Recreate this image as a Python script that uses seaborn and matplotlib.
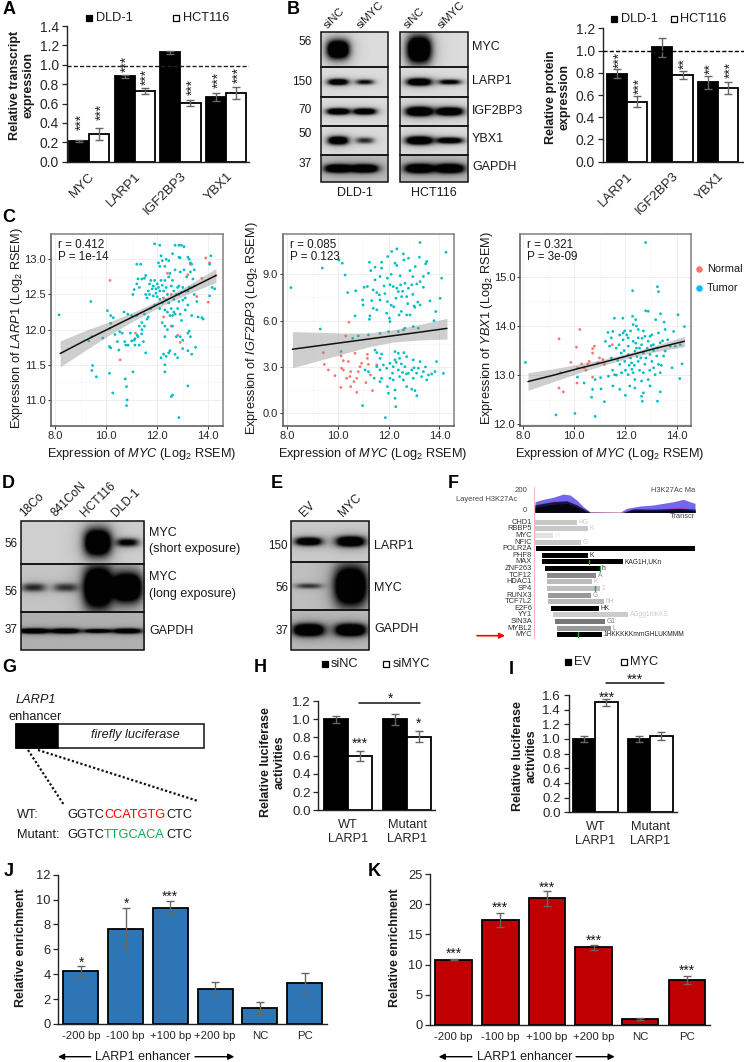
import numpy as np
import pandas as pd
import matplotlib
matplotlib.use("Agg")
import matplotlib.pyplot as plt
from matplotlib.patches import Rectangle
import seaborn as sns

sns.set_style("ticks")
plt.rcParams['font.family'] = ['Liberation Sans', 'DejaVu Sans']
plt.rcParams['mathtext.fontset'] = 'custom'
plt.rcParams['mathtext.rm'] = 'Liberation Sans'
plt.rcParams['mathtext.it'] = 'Liberation Sans:italic'
plt.rcParams['mathtext.bf'] = 'Liberation Sans:bold'
TXT = '#1a1a1a'
plt.rcParams['text.color'] = TXT

W, H = 744, 1062

# ---------- bar data ----------
a_genes = ['MYC', 'LARP1', 'IGF2BP3', 'YBX1']
a_dld = [0.21, 0.88, 1.13, 0.665]
a_hct = [0.285, 0.73, 0.605, 0.71]
a_dld_err = [0.01, 0.015, 0.015, 0.04]
a_hct_err = [0.065, 0.03, 0.035, 0.06]
a_star_y = [0.406, 1.01, None, 0.84, 0.51, 0.87, 0.77, 0.90]
a_stars = ['***', '***', '', '***', '***', '***', '***', '***']

b_genes = ['LARP1', 'IGF2BP3', 'YBX1']
b_dld = [0.79, 1.03, 0.715]
b_hct = [0.54, 0.78, 0.66]
b_dld_err = [0.04, 0.085, 0.06]
b_hct_err = [0.05, 0.04, 0.055]
b_star_y = [0.915, None, 0.84, 0.68, 0.885, 0.825]
b_stars = ['***', '', '**', '***', '**', '***']

h_groups = ['WT\nLARP1', 'Mutant\nLARP1']
h_sinc = [1.0, 1.0]
h_simyc = [0.6, 0.81]
h_sinc_err = [0.04, 0.06]
h_simyc_err = [0.055, 0.065]

i_groups = ['WT\nLARP1', 'Mutant\nLARP1']
i_ev = [1.0, 1.0]
i_myc = [1.5, 1.04]
i_ev_err = [0.035, 0.04]
i_myc_err = [0.05, 0.06]

jk_sites = ['-200 bp', '-100 bp', '+100 bp', '+200 bp', 'NC', 'PC']
j_vals = [4.25, 7.65, 9.35, 2.85, 1.3, 3.3]
j_errs = [0.42, 1.65, 0.5, 0.55, 0.5, 0.78]
j_stars = ['*', '*', '***', '', '', '']
k_vals = [10.8, 17.4, 21.0, 12.85, 1.0, 7.45]
k_errs = [0.1, 1.15, 1.3, 0.45, 0.15, 0.65]
k_stars = ['***', '***', '***', '***', '', '***']

# ---------- scatter data ----------
c1_tumor = [(8.16,12.21),(9.4,12.4),(9.32,11.84),(9.44,11.9),(9.47,11.49),(9.44,11.42),(9.62,11.33),(10.05,12.27),
(10.18,12.2),(10.18,12.09),(10.28,12.17),(10.13,11.76),(10.18,11.74),(9.87,11.88),(10.13,11.38),(10.26,11.1),(10.75,11.3),
(10.8,11.19),(10.82,11.0),(10.8,10.92),(11.05,11.4),(10.15,12.02),(10.35,11.93),(10.53,11.97),(10.63,11.95),(10.44,11.83),
(10.5,11.71),(10.73,11.83),(10.77,11.78),(10.86,11.78),(11.0,11.84),(11.13,11.87),(11.22,11.92),(11.39,11.94),(11.46,11.83),
(11.3,11.78),(11.13,11.78),(11.3,12.6),(11.4,12.72),(11.5,12.73),(11.55,12.77),(11.25,12.72),(11.2,12.65),(11.1,12.57),
(11.05,12.5),(11.35,12.93),(11.55,12.5),(11.6,12.45),(11.65,12.55),(11.7,12.65),(11.75,12.7),(11.8,12.58),(11.85,12.62),
(11.9,12.7),(11.95,12.58),(12.0,12.65),(12.05,12.6),(12.1,12.55),(12.15,12.7),(12.2,12.63),(12.25,12.55),(12.3,12.7),
(12.35,12.6),(12.4,12.5),(12.45,12.75),(12.5,12.8),(12.55,12.62),(12.6,12.7),(12.65,12.55),(12.7,12.85),(12.75,12.5),
(12.8,12.6),(12.85,12.62),(12.9,12.82),(12.95,12.53),(13.0,12.6),(13.05,12.85),(13.1,12.45),(13.15,12.75),(13.2,12.55),
(13.3,12.82),(13.35,12.6),(13.4,12.72),(13.45,12.5),(11.9,13.22),(12.1,13.2),(12.15,13.05),(12.05,12.95),(12.1,12.9),
(12.2,12.98),(12.3,12.9),(12.35,13.0),(12.45,12.98),(12.6,13.08),(12.7,13.2),(12.85,13.2),(12.95,13.2),(13.05,13.18),
(12.85,13.03),(12.9,13.02),(13.2,13.03),(13.25,13.0),(13.3,12.95),(13.35,12.93),(13.45,12.85),(14.1,13.05),(14.05,12.93),
(11.2,12.93),(14.15,12.6),(14.05,12.48),(14.25,12.58),(11.5,12.22),(11.6,12.15),(11.4,12.1),(11.3,12.05),(11.5,12.05),
(11.65,12.18),(11.2,12.2),(11.0,12.2),(10.85,12.22),(10.7,12.25),(11.75,12.3),(11.9,12.35),(12.1,12.3),(12.2,12.38),
(12.3,12.28),(12.4,12.25),(12.45,12.38),(12.5,12.2),(12.55,12.3),(12.6,12.2),(12.65,12.25),(12.7,12.22),(12.8,12.3),
(12.85,12.4),(12.9,12.22),(12.95,12.13),(13.1,12.28),(13.2,12.35),(13.35,12.2),(13.55,12.4),(13.6,12.18),(13.75,12.17),
(13.8,12.15),(12.2,12.1),(12.3,12.05),(12.4,12.0),(12.3,11.9),(12.6,12.05),(12.75,11.9),(12.9,11.9),(13.0,11.85),(13.2,11.95),
(13.3,11.9),(13.25,11.98),(12.5,11.7),(12.45,11.67),(12.3,11.5),(12.25,11.65),(12.15,11.6),(12.35,11.62),(12.7,11.65),
(12.8,11.6),(13.0,11.73),(13.2,11.7),(13.35,11.65),(13.5,11.75),(11.55,11.67),(11.4,12.0),(10.95,11.95),(11.1,11.85),
(11.25,11.9),(12.3,11.4),(12.6,11.07),(12.55,11.05),(13.2,11.2),(12.85,10.75),(12.0,12.47),(12.1,12.43),(12.35,12.42),
(11.85,12.48),(11.7,12.5),(11.95,12.52),(12.65,12.43),(12.85,12.5),(13.0,12.42),(13.1,12.55),(13.25,12.6),(13.45,12.62)]
c1_normal = [(10.15,12.7),(10.55,11.57),(11.15,11.95),(12.25,12.18),(12.8,11.92),(12.55,12.05),(12.9,11.82),(12.4,12.8),
(12.55,12.5),(13.2,12.78),(13.3,12.93),(13.9,13.02),(14.05,12.95),(13.75,12.73),(14.0,12.39),(14.3,12.77),(12.25,12.45),(13.55,12.47)]

c2_tumor = [(8.14,8.14),(9.38,9.4),(10.04,9.93),(10.17,9.72),(10.28,8.96),(10.38,7.82),(10.7,7.93),(9.3,5.46),(11.24,9.78),
(11.29,9.24),(11.46,9.46),(11.72,9.78),(11.96,10.15),(12.12,10.48),(12.32,10.65),(13.24,11.06),(14.26,10.43),(12.58,10.32),
(12.78,10.04),(13.21,10.11),(13.5,9.83),(13.46,9.68),(12.25,9.72),(12.32,9.57),(12.6,9.93),(12.84,9.24),(11.72,9.4),(11.66,8.86),
(11.46,8.64),(11.16,8.21),(11.03,8.16),(11.39,7.99),(11.53,7.82),(11.63,7.67),(11.82,8.25),(12.05,8.32),(12.18,8.21),(12.32,8.1),
(12.38,7.88),(12.47,8.32),(12.64,8.42),(12.78,8.1),(12.91,8.32),(13.11,8.38),(13.24,8.53),(13.37,8.86),(13.57,9.07),(14.09,8.75),
(14.03,7.45),(13.63,7.28),(13.37,8.16),(12.51,7.56),(12.71,7.56),(12.29,7.45),(11.95,7.24),(11.66,7.34),(11.33,7.3),(10.97,7.34),
(10.99,7.02),(11.39,6.8),(11.53,6.7),(11.26,6.31),(11.24,6.09),(10.67,6.31),(11.92,6.48),(12.03,6.16),(12.41,6.37),(12.71,6.37),
(12.84,6.37),(13.03,6.87),(13.24,7.02),(13.86,6.59),(13.79,6.0),(12.97,5.62),(12.58,5.4),(11.99,5.29),(12.38,5.29),(11.66,5.18),
(10.8,5.01),(10.58,4.86),(11.2,5.08),(13.17,5.51),(12.64,5.51),(12.05,5.94),(12.1,7.0),(12.55,7.9),(12.95,7.7),(13.15,7.2),
(12.75,7.1),(13.0,6.95),(12.5,6.6),(12.2,6.9),(11.85,7.75),(12.95,8.85),(12.1,9.0),(12.45,8.9),(13.05,9.5),(11.95,8.75),
(10.12,4.0),(11.46,4.1),(11.53,3.93),(11.72,3.84),(12.25,4.0),(12.38,3.89),(12.6,3.93),(12.43,3.56),(12.25,3.46),(12.71,3.67),
(12.97,3.46),(13.24,3.35),(12.05,3.24),(11.66,3.56),(11.79,3.13),(11.53,3.02),(11.07,2.81),(11.2,2.7),(11.66,2.81),(11.92,2.92),
(12.18,3.02),(12.38,2.81),(12.64,3.02),(12.78,2.59),(12.91,2.81),(13.17,2.92),(13.37,2.7),(13.57,2.48),(13.83,2.7),(14.16,2.59),
(13.89,3.35),(13.3,2.38),(12.97,2.27),(12.58,2.16),(12.18,2.16),(12.05,2.27),(11.72,2.27),(11.43,2.27),(11.66,2.05),(11.95,1.73),
(12.25,1.51),(11.99,1.3),(12.25,0.97),(12.71,1.73),(12.91,1.56),(13.04,1.47),(13.11,1.14),(10.97,0.5),(11.87,-0.28),(12.28,0.43),
(13.5,2.16),(12.43,2.38),(12.7,2.55),(13.0,2.95),(13.1,2.6),(12.15,2.6),(12.3,3.3),(12.5,3.2),(12.55,2.65),(13.45,3.0),(13.7,2.55)]
c2_normal = [(10.43,5.9),(10.3,5.01),(9.42,3.93),(9.46,3.17),(9.62,2.81),(9.88,2.44),(10.12,3.71),(10.21,3.41),(10.67,3.89),
(11.16,3.82),(11.16,3.56),(10.41,3.35),(10.14,2.92),(10.21,2.81),(10.5,2.7),(10.8,2.7),(10.93,3.24),(10.87,3.02),(11.2,3.17),
(11.53,3.13),(10.47,2.38),(10.74,2.27),(10.11,1.68),(10.5,1.73),(10.74,1.36),(11.1,1.99),(11.36,1.47),(10.34,2.27),(10.63,2.05),(11.28,2.48)]

c3_tumor = [(12.79,15.7),(12.28,14.72),(13.25,14.8),(13.29,14.7),(8.1,13.26),(9.29,12.19),(10.03,12.22),(10.82,12.16),(11.57,14.16),
(11.9,14.16),(12.28,14.2),(12.4,14.13),(12.79,14.31),(12.89,14.3),(13.37,14.25),(13.18,14.13),(14.05,14.23),(14.3,13.99),(13.51,14.08),
(13.55,13.93),(13.88,13.89),(13.29,13.86),(13.03,13.82),(12.76,13.79),(12.5,13.93),(12.3,14.03),(11.97,13.9),(11.78,13.82),(11.51,13.89),
(11.32,13.87),(11.45,13.76),(11.22,13.69),(11.38,13.59),(11.64,13.55),(11.91,13.72),(12.11,13.76),(12.3,13.69),(12.5,13.76),(12.63,13.62),
(12.89,13.69),(13.09,13.62),(13.36,13.66),(13.55,13.49),(13.75,13.59),(13.95,13.59),(14.14,13.62),(11.84,13.45),(12.11,13.42),(12.37,13.49),
(12.7,13.45),(12.96,13.42),(13.22,13.39),(13.49,13.39),(11.97,13.28),(12.24,13.25),(12.5,13.28),(12.76,13.22),(13.03,13.28),(13.29,13.22),
(13.82,13.15),(14.21,13.23),(11.78,13.22),(11.58,13.01),(11.34,12.98),(11.03,12.95),(10.82,12.91),(12.11,13.01),(12.37,12.91),(12.63,12.88),
(12.89,12.91),(13.16,13.01),(13.36,13.05),(14.12,12.93),(10.13,12.96),(10.39,12.84),(10.72,12.71),(10.68,12.55),(11.05,12.72),(11.18,12.46),
(11.51,12.78),(11.78,12.71),(12.0,12.59),(12.17,12.78),(12.37,12.74),(12.7,12.64),(12.63,12.57),(12.66,12.47),(12.96,12.78),(13.25,12.47),
(13.36,12.66),(11.91,13.86),(12.43,14.0),(12.7,13.9),(12.96,13.79),(12.11,13.59),(12.43,13.55),(12.2,13.35),(12.55,13.55),(12.85,13.55),
(13.1,13.5),(12.35,13.2),(12.55,13.1),(12.0,13.1),(11.7,13.3),(11.5,13.1),(13.1,13.15),(12.05,13.82),(12.2,13.9),(12.6,13.35),(12.8,13.35),
(12.4,13.65),(11.75,13.62),(11.95,13.5),(12.25,13.12),(12.7,13.05),(12.95,13.1),(13.25,13.55),(13.45,13.7),(13.65,13.72),(12.65,13.75),
(12.3,13.05),(11.85,13.05),(13.4,13.2),(13.0,13.6),(12.15,13.2),(12.45,13.38),(11.65,13.0),(11.45,13.35)]
c3_normal = [(9.41,13.74),(10.22,13.93),(10.09,13.57),(9.87,13.26),(9.47,13.05),(9.41,12.74),(9.58,12.66),(10.11,12.84),(10.13,13.15),
(10.29,13.23),(10.39,13.15),(10.53,13.23),(10.46,13.1),(10.72,13.45),(10.79,13.59),(10.72,13.54),(10.99,13.35),(11.12,13.32),(11.18,13.22),
(10.72,12.96),(11.49,13.62),(10.92,13.25),(10.59,13.28)]

fit_x = [8.2, 9.2, 10.2, 11.2, 12.2, 13.2, 14.3]
c1_fit = [11.66, 11.85, 12.03, 12.21, 12.39, 12.57, 12.77]
c1_lo = [11.47, 11.71, 11.94, 12.15, 12.34, 12.51, 12.67]
c1_hi = [11.84, 11.99, 12.12, 12.27, 12.44, 12.63, 12.87]
c2_fit = [4.15, 4.37, 4.59, 4.81, 5.03, 5.25, 5.5]
c2_lo = [2.95, 3.4, 3.85, 4.3, 4.62, 4.75, 4.81]
c2_hi = [5.29, 5.25, 5.2, 5.2, 5.42, 5.75, 6.15]
c3_fit = [12.87, 13.0, 13.14, 13.27, 13.41, 13.55, 13.69]
c3_lo = [12.69, 12.87, 13.05, 13.21, 13.36, 13.48, 13.58]
c3_hi = [13.05, 13.13, 13.23, 13.33, 13.46, 13.61, 13.79]

# ---------- blot data: intensity, band width px, band thickness px per lane ----------
b_rows = ['MYC', 'LARP1', 'IGF2BP3', 'YBX1', 'GAPDH']
b_dld_blot = [[(1.0, 22, 18), (0.0, 1, 1)], [(0.85, 20, 6), (0.55, 18, 5)], [(0.95, 22, 6), (0.9, 22, 6)],
              [(0.9, 20, 8), (0.45, 18, 6)], [(1.0, 26, 8), (1.0, 26, 8)]]
b_hct_blot = [[(1.0, 24, 26), (0.0, 1, 1)], [(0.95, 24, 7), (0.65, 22, 5)], [(1.0, 26, 9), (0.95, 26, 8)],
              [(0.95, 26, 8), (0.8, 26, 6)], [(1.0, 28, 9), (1.0, 28, 9)]]
d_short = [(0.0, 1, 1), (0.0, 1, 1), (1.0, 26, 26), (0.6, 22, 8)]
d_long = [(0.45, 24, 8), (0.4, 24, 8), (1.0, 28, 40), (1.0, 28, 28)]
d_gapdh = [(0.9, 30, 5), (0.85, 28, 5), (0.8, 26, 4), (0.85, 28, 5)]
e_larp1 = [(0.85, 26, 8), (0.95, 28, 10)]
e_myc = [(0.4, 26, 5), (1.0, 32, 38)]
e_gapdh = [(1.0, 30, 12), (1.0, 30, 12)]

# ---------- ChIP track data ----------
f_names = ['CHD1','RBBP5','MYC','NFIC','POLR2A','PHF8','MAX','ZNF263','TCF12','HDAC1','SP4','RUNX3','TCF7L2','E2F6','YY1','SIN3A','MYBL2','MYC']
f_start = [343,343,343,343,347,367,367,376,381,381,382,385,385,394,400,404,411,411]
f_end = [470,504,398,483,825,504,608,539,529,517,541,512,553,536,625,554,573,545]
f_grey = ['#c8c8c8','#c8c8c8','#e2e2e2','#c8c8c8','#000000','#000000','#000000','#000000','#888888','#bbbbbb','#c0c0c0','#999999',
          '#bbbbbb','#000000','#cccccc','#777777','#999999','#000000']
f_tags = ['HG','K','m','G','','K','KAG1H,UKn','h','A','K','1','G','hH','HK','AGgg1hiKKS','G1','L','1HKKKKKmmGHLUKMMM']
f_green = [None,None,None,None,None,None,507,540,None,None,525,None,None,None,None,None,None,475]
f_track_x = [345,370,400,430,450,470,490,510,600,620,660,700,760,790,810,825]
f_track_upper = [98,120,139,169,160,114,52,6,0,37,58,68,98,120,98,83]
f_dark_x = [345,400,440,470,500,510,610,640,700,780,825]
f_track_dark = [68,98,105,68,15,0,0,31,28,37,28]
f_track_core = [46,74,83,46,9,0,0,15,15,22,15]

# ---------- helpers ----------
fig = plt.figure(figsize=(W / 100, H / 100), dpi=100, facecolor='white')


def axpx(x0, y0, x1, y1, **kw):
    return fig.add_axes([x0 / W, 1 - y1 / H, (x1 - x0) / W, (y1 - y0) / H], **kw)


ov = fig.add_axes([0, 0, 1, 1], zorder=20)
ov.patch.set_visible(False)
ov.axis('off')
ov.set_xlim(0, W)
ov.set_ylim(H, 0)


def T(x, y, s, size=9, ha='left', va='center', **kw):
    ov.text(x, y, s, fontsize=size, ha=ha, va=va, **kw)


def legend_sq(x, y, color, label, tx, size=9.2):
    ov.add_patch(Rectangle((x - 3, y - 3), 6, 6, facecolor=color, edgecolor='black', lw=0.9))
    T(tx, y, label, size=size)


def bars(rect, xlim, ylim, yticks, cats, series, errs, colors, width, tick_size=9.6, lab_size=9.2, rot=0, pad=3, ytickfmt='{:.1f}'):
    ax = axpx(*rect)
    rows = []
    for name, vals in series.items():
        for c, v in zip(cats, vals):
            rows.append({'cat': c, 'series': name, 'val': v})
    df = pd.DataFrame(rows)
    sns.barplot(data=df, x='cat', y='val', hue='series', order=cats, hue_order=list(series), palette=colors,
                width=width, edgecolor='black', linewidth=1.3, errorbar=None, legend=False, saturation=1, ax=ax)
    for cont, err in zip(ax.containers, errs):
        for r, e in zip(cont, err):
            cx = r.get_x() + r.get_width() / 2
            ax.errorbar(cx, r.get_height(), yerr=e, ecolor='#666666', elinewidth=1, capsize=2.6, capthick=1, zorder=6, fmt='none')
    ax.set_xlim(*xlim)
    ax.set_ylim(*ylim)
    ax.set_yticks(yticks)
    ax.set_yticklabels([ytickfmt.format(t) for t in yticks], fontsize=tick_size)
    ax.set_xlabel('')
    ax.set_ylabel('')
    ax.tick_params(axis='x', length=0, pad=pad, labelsize=lab_size)
    ax.tick_params(axis='y', length=3.5, width=0.9, pad=2)
    if rot:
        plt.setp(ax.get_xticklabels(), rotation=rot, ha='right', rotation_mode='anchor')
    else:
        plt.setp(ax.get_xticklabels(), linespacing=1.3)
    for s in ('top', 'right'):
        ax.spines[s].set_visible(False)
    for s in ('left', 'bottom'):
        ax.spines[s].set_linewidth(1.0)
        ax.spines[s].set_color('#222222')
    ax.patch.set_visible(False)
    return ax


def bar_stars(ax, star_y, stars, rotation=90, size=9.8, dx=0.05):
    pats = [r for c in ax.containers for r in c]
    for r, y, s in zip(pats, star_y, stars):
        if s:
            ax.text(r.get_x() + r.get_width() / 2 + dx, y, s, rotation=rotation, ha='center', va='center', fontsize=size,
                    rotation_mode='default', zorder=8, color='#222222')


def blot(x0, x1, y0, y1, lanes, bands, bg=0.82):
    nx, ny = int((x1 - x0) * 2), int((y1 - y0) * 2)
    X, Y = np.meshgrid(np.linspace(x0, x1, nx), np.linspace(y0, y1, ny))
    cy = (y0 + y1) / 2
    I = np.zeros_like(X)
    for cx, (amp, w, t) in zip(lanes, bands):
        if amp <= 0:
            continue
        shape = np.exp(-(np.abs(X - cx) / (w / 2)) ** 3 - (np.abs(Y - cy) / (t / 2)) ** 2.4)
        halo = 0.35 * np.exp(-(np.abs(X - cx) / (w * 0.7)) ** 2 - (np.abs(Y - cy) / (t * 0.9)) ** 2)
        I += amp * (1.5 * shape + halo)
    img = bg * (1 - np.clip(I, 0, 1)) + 0.01
    ov.imshow(img, extent=(x0, x1, y1, y0), cmap='gray', vmin=0, vmax=1, aspect='auto', interpolation='bilinear', zorder=1)
    ov.add_patch(Rectangle((x0, y0), x1 - x0, y1 - y0, fill=False, edgecolor='#111111', lw=1.1, zorder=2))


def star_text(x, y, s, size=9.8):
    T(x, y + 1.5, s, size=size, ha='center')


# ---------- Panel letters ----------
letters = {'A': (3, 10), 'B': (287, 10), 'C': (2, 217), 'D': (2, 484), 'E': (271, 484), 'F': (448, 484), 'G': (2, 668),
           'H': (254, 668), 'I': (509, 670), 'J': (4, 872), 'K': (368, 872)}
for k, (x, y) in letters.items():
    T(x, y, k, size=13, weight='bold', color='black')

# ---------- A ----------
axA = bars((66.7, 26, 249, 161.7), (-0.488, 3.5), (0, 1.4), [0, .2, .4, .6, .8, 1.0, 1.2, 1.4], a_genes,
           {'DLD-1': a_dld, 'HCT116': a_hct}, [a_dld_err, a_hct_err], ['black', 'white'], 0.88, rot=45, tick_size=10, lab_size=9.6, pad=6)
axA.axhline(0.985, color='#222222', ls=(0, (3, 1.5)), lw=1, zorder=7)
bar_stars(axA, a_star_y, a_stars)
legend_sq(89, 18, 'black', 'DLD-1', 96)
legend_sq(176, 18, 'white', 'HCT116', 183)
T(21.5, 85, 'Relative transcript\nexpression', size=9, rotation=90, ha='center', weight='bold', linespacing=1.15, multialignment='center')

# ---------- B blot ----------
b_y = [32, 67, 97, 126, 155, 182]
for i, name in enumerate(b_rows):
    blot(321, 388, b_y[i], b_y[i + 1], [338, 365], b_dld_blot[i], bg=0.85 if i != 4 else 0.72)
    blot(400, 468, b_y[i], b_y[i + 1], [419, 450], b_hct_blot[i], bg=0.85 if i != 4 else 0.72)
    T(472, (b_y[i] + b_y[i + 1]) / 2 - (1 if i else 2), name, size=9)
for lab, y in zip(['56', '150', '70', '50', '37'], [42, 82, 110, 134, 164]):
    T(312, y, lab, size=8.6, ha='right')
T(355, 193, 'DLD-1', size=9, ha='center')
T(434, 193, 'HCT116', size=9, ha='center')
for x, s in [(329, 'siNC'), (362, 'siMYC'), (409, 'siNC'), (443, 'siMYC')]:
    T(x, 30, s, size=8.2, rotation=45, ha='left', va='bottom', rotation_mode='anchor')

# ---------- B chart ----------
axB = bars((602.7, 28.3, 743.7, 161.7), (-0.534, 2.565), (0, 1.2), [0, .2, .4, .6, .8, 1.0, 1.2], b_genes,
           {'DLD-1': b_dld, 'HCT116': b_hct}, [b_dld_err, b_hct_err], ['black', 'white'], 0.88, rot=45, tick_size=10, lab_size=9.6, pad=6)
axB.axhline(1.0, color='black', ls=(0, (3, 1.5)), lw=1, zorder=7)
bar_stars(axB, b_star_y, b_stars)
legend_sq(614, 19, 'black', 'DLD-1', 621)
legend_sq(674, 19, 'white', 'HCT116', 680)
T(558, 97, 'Relative protein\nexpression', size=9, rotation=90, ha='center', weight='bold', linespacing=1.15, multialignment='center')

# ---------- C ----------
def scatter_panel(rect, xlim, ylim, yticks, tumor, normal, fit, lo, hi, gene, r_txt, p_txt, ylab_x):
    ax = axpx(*rect)
    t = pd.DataFrame(tumor, columns=['x', 'y']).assign(group='Tumor')
    n = pd.DataFrame(normal, columns=['x', 'y']).assign(group='Normal')
    df = pd.concat([n, t])
    sns.scatterplot(data=df, x='x', y='y', hue='group', palette={'Normal': '#F8766D', 'Tumor': '#00BFC4'}, s=4,
                    linewidth=0, legend=False, ax=ax, zorder=3)
    ax.fill_between(fit_x, lo, hi, color='#8c8c8c', alpha=0.42, lw=0, zorder=4)
    sns.lineplot(x=fit_x, y=fit, color='#111111', lw=1.1, ax=ax, zorder=5)
    ax.set_xlim(*xlim)
    ax.set_ylim(*ylim)
    ax.set_xticks([8, 10, 12, 14])
    ax.set_xticklabels(['8.0', '10.0', '12.0', '14.0'], fontsize=8)
    ax.set_yticks(yticks)
    ax.set_yticklabels([f'{v:.1f}' for v in yticks], fontsize=8)
    ax.set_xticks([9, 11, 13], minor=True)
    mid = [(yticks[i] + yticks[i + 1]) / 2 for i in range(len(yticks) - 1)]
    ax.set_yticks(mid, minor=True)
    ax.grid(True, which='major', color='#ececec', lw=0.6, zorder=0)
    ax.grid(True, which='minor', color='#f5f5f5', lw=0.4, zorder=0)
    ax.set_axisbelow(True)
    ax.tick_params(axis='both', which='major', length=2.2, width=0.7, pad=1.5, color='#333333')
    ax.tick_params(axis='both', which='minor', length=0)
    ax.set_xlabel('')
    ax.set_ylabel('')
    for s in ('top', 'right'):
        ax.spines[s].set_color('#808080')
        ax.spines[s].set_linewidth(1.1)
    for s in ('left', 'bottom'):
        ax.spines[s].set_color('#555555')
        ax.spines[s].set_linewidth(1.1)
    x0, y0, x1, y1 = rect
    T(x0 + 6.3, 244.5, r_txt, size=8.4)
    T(x0 + 6.3, 257.5, p_txt, size=8.4)
    T((x0 + x1) / 2 + 4, 453.7, r'Expression of $\mathit{MYC}$ (Log$_2$ RSEM)', size=9.2, ha='center')
    T(ylab_x, 328.5, rf'Expression of $\mathit{{{gene}}}$ (Log$_2$ RSEM)', size=9.2, ha='center', rotation=90)
    return ax


scatter_panel((51.3, 233.7, 223.3, 426), (7.855, 14.587), (10.63, 13.364), [11, 11.5, 12, 12.5, 13], c1_tumor, c1_normal,
              c1_fit, c1_lo, c1_hi, 'LARP1', 'r = 0.412', 'P = 1e-14', 17)
scatter_panel((283.3, 233.7, 454.3, 426), (7.84, 14.59), (-0.82, 11.63), [0, 3, 6, 9], c2_tumor, c2_normal,
              c2_fit, c2_lo, c2_hi, 'IGF2BP3', 'r = 0.085', 'P = 0.123', 252.5)
scatter_panel((520.3, 233.7, 691.3, 426), (7.9, 14.57), (11.965, 15.88), [12, 13, 14, 15], c3_tumor, c3_normal,
              c3_fit, c3_lo, c3_hi, 'YBX1', 'r = 0.321', 'P = 3e-09', 487)
ov.scatter([698.7], [269], s=22, color='#F8766D', linewidth=0)
ov.scatter([698.7], [288], s=22, color='#00BFFF', linewidth=0)
T(707, 269, 'Normal', size=7.9)
T(707, 288, 'Tumor', size=7.9)

# ---------- D ----------
d_lanes = [33, 65, 97, 127]
blot(20.7, 144, 521, 564, d_lanes, d_short, bg=0.8)
blot(20.7, 144, 564, 612.3, d_lanes, d_long, bg=0.76)
blot(20.7, 144, 612.3, 650, d_lanes, d_gapdh, bg=0.68)
for y, s in [(533, 'MYC'), (549, '(short exposure)'), (577, 'MYC'), (594, '(long exposure)'), (631, 'GAPDH')]:
    T(149, y, s, size=9)
for y, s in [(544, '56'), (592, '56'), (630, '37')]:
    T(17, y, s, size=8.4, ha='right')
for x, s in [(26, '18Co'), (58, '841CoN'), (87, 'HCT116'), (118, 'DLD-1')]:
    T(x, 519, s, size=8.6, rotation=45, ha='left', va='bottom', rotation_mode='anchor')

# ---------- E ----------
e_lanes = [308, 350]
blot(290.7, 369, 521, 562, e_lanes, e_larp1, bg=0.78)
blot(290.7, 369, 562, 610, e_lanes, e_myc, bg=0.74)
blot(290.7, 369, 610, 650, e_lanes, e_gapdh, bg=0.72)
for y, s in [(546, 'LARP1'), (588, 'MYC'), (629, 'GAPDH')]:
    T(374, y, s, size=9)
for y, s in [(546, '150'), (588, '56'), (631, '37')]:
    T(288, y, s, size=8.4, ha='right')
for x, s in [(306, 'EV'), (345, 'MYC')]:
    T(x, 519, s, size=8.6, rotation=45, ha='left', va='bottom', rotation_mode='anchor')

# ---------- F ----------
axF = axpx(420, 470 + 147 / 3, 420 + 825 / 3, 470 + 505 / 3)
axF.axis('off')
axF.set_xlim(0, 825)
f_y = np.linspace(157, 494, len(f_names))
axF.set_ylim(505, 147)
axF.barh(f_y, np.array(f_end) - np.array(f_start), left=f_start, height=15, color=f_grey, lw=0)
for y, name, end, col, tag, g in zip(f_y, f_names, f_end, f_grey, f_tags, f_green):
    axF.text(336, y, name, ha='right', va='center', fontsize=5.4, color='#333333')
    if g:
        axF.plot([g, g], [y - 7, y + 7], color='#22aa33', lw=1)
    axF.text(end + 5, y, tag, ha='left', va='center', fontsize=4.8, color=col if col != '#000000' else '#222222')
ov.plot([420 + 341 / 3] * 2, [470 + 50 / 3, 470 + 505 / 3], color='#f2b8b8', lw=0.8)
axT = axpx(420 + 345 / 3, 470 + 62 / 3, 420 + 825 / 3, 470 + 127 / 3)
axT.axis('off')
axT.set_xlim(345, 825)
axT.set_ylim(0, 200)
axT.fill_between(f_track_x, 0, f_track_upper, color='#7566ee', lw=0)
axT.fill_between(f_dark_x, 0, np.array(f_track_dark) + 4, color='#b03060', lw=0)
axT.fill_between(f_dark_x, 0, f_track_dark, color='#15154f', lw=0)
axT.fill_between(f_dark_x, 0, f_track_core, color='#050510', lw=0)
axT.axhline(0, color='#333333', lw=0.6)
T(420 + 322 / 3, 490.5, '200', size=5.6, ha='right', color='#444444')
T(420 + 322 / 3, 510, '0', size=5.6, ha='right', color='#444444')
T(420 + 290 / 3, 499.5, 'Layered H3K27Ac', size=5.4, ha='right', color='#444444')
T(420 + 825 / 3, 490.5, 'H3K27Ac Ma', size=5.4, ha='right', color='#444444')
T(420 + 825 / 3, 516.5, 'Transcr', size=5.4, ha='right', color='#444444')
ov.annotate('', xy=(505, 635.7), xytext=(477, 635.7),
            arrowprops=dict(arrowstyle='-|>', color='red', lw=1.2, mutation_scale=8, shrinkA=0, shrinkB=0))

# ---------- G ----------
ov.add_patch(Rectangle((16, 724.3), 188, 23.4, facecolor='white', edgecolor='#111111', lw=1.1))
ov.add_patch(Rectangle((16, 724.3), 42.3, 23.4, facecolor='black', edgecolor='black', lw=1.1))
T(35.5, 700, 'LARP1', size=9.2, ha='center', style='italic')
T(35.5, 716.5, 'enhancer', size=9.2, ha='center')
T(135, 735, 'firefly luciferase', size=9.2, ha='center', style='italic')
ov.plot([28, 64], [750, 805], color='#111111', lw=1.6, ls=(0, (1, 1)))
ov.plot([38, 198], [750, 801], color='#111111', lw=1.6, ls=(0, (1, 1)))
T(17, 815, 'WT:', size=9.2)
T(17, 835.5, 'Mutant:', size=9.2)
for y, mid, col in [(815, 'CCATGTG', '#ff0000'), (835.5, 'TTGCACA', '#00B050')]:
    T(67.3, y, 'GGTC', size=9.2)
    T(104, y, mid, size=9.2, color=col)
    T(166, y, 'CTC', size=9.2)

# ---------- H ----------
axH = bars((318.3, 701, 435.3, 810.3), (-0.496, 1.47), (0, 1.2), [0, .2, .4, .6, .8, 1.0, 1.2], h_groups,
           {'siNC': h_sinc, 'siMYC': h_simyc}, [h_sinc_err, h_simyc_err], ['black', 'white'], 0.81, pad=6, lab_size=9.2)
legend_sq(325, 664, 'black', 'siNC', 331)
legend_sq(386, 664, 'white', 'siMYC', 393)
ov.plot([359, 420.3], [703, 703], color='#111111', lw=1.1)
star_text(390, 697.5, '*')
star_text(360, 742.5, '***')
star_text(418.7, 722.5, '*')
T(272.5, 761.7, 'Relative luciferase\nactivities', size=9, rotation=90, ha='center', weight='bold', linespacing=1.15, multialignment='center')

# ---------- I ----------
axI = bars((568.7, 695, 677, 812.3), (-0.484, 1.485), (0, 1.6), [0, .2, .4, .6, .8, 1.0, 1.2, 1.4, 1.6], i_groups,
           {'EV': i_ev, 'MYC': i_myc}, [i_ev_err, i_myc_err], ['black', 'white'], 0.81, pad=6, lab_size=9.2)
legend_sq(567.7, 662, 'black', 'EV', 574)
legend_sq(624.3, 662, 'white', 'MYC', 630)
ov.plot([606.3, 663.7], [683.3, 683.3], color='#111111', lw=1.1)
star_text(634.7, 678.5, '***')
star_text(607, 696, '***')
T(525, 756, 'Relative luciferase\nactivities', size=9, rotation=90, ha='center', weight='bold', linespacing=1.15, multialignment='center')

# ---------- J, K ----------
def enrichment(rect, xlim, ylim, yticks, vals, errs, stars, color, star_xy, yl_x, arrows, txt_x):
    ax = bars(rect, xlim, ylim, yticks, jk_sites, {'s': vals}, [errs], [color], 0.78, tick_size=9.3, lab_size=8.2, pad=5, ytickfmt='{:.0f}')
    for (x, y), s in zip(star_xy, stars):
        if s:
            star_text(x, y, s)
    T(yl_x, 948, 'Relative enrichment', size=9, rotation=90, ha='center', weight='bold')
    T(txt_x, 1057.5, 'LARP1 enhancer', size=9, ha='center')
    for a, b in arrows:
        ov.annotate('', xy=(b, 1056.7), xytext=(a, 1056.7),
                    arrowprops=dict(arrowstyle='-|>', color='black', lw=1, mutation_scale=9, shrinkA=0, shrinkB=0))


enrichment((58.3, 874.7, 326.7, 1024), (-0.502, 5.49), (0, 12), [0, 2, 4, 6, 8, 10, 12], j_vals, j_errs, j_stars, '#2E75B6',
           [(81, 961), (126, 902.5), (170, 895.5), (0, 0), (0, 0), (0, 0)], 21, [(90.7, 58), (195, 234.3)], 143)
enrichment((430.3, 874.3, 710.3, 1024.7), (-0.5, 5.5), (0, 25), [0, 5, 10, 15, 20, 25], k_vals, k_errs, k_stars, '#C00000',
           [(453.7, 952.5), (500.3, 906.5), (547, 886.5), (593.7, 939.5), (0, 0), (687, 969.5)], 394.7, [(472, 438.7), (576, 614.7)], 524.3)

fig.savefig('out.png', dpi=100)
